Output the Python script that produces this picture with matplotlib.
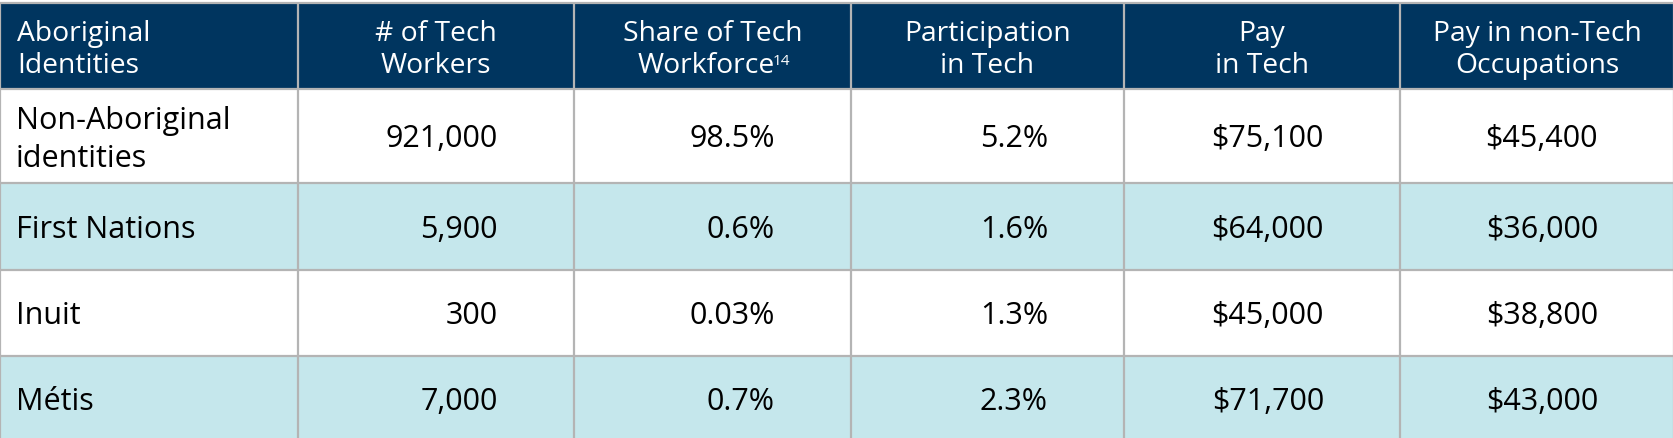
import matplotlib
matplotlib.use("Agg")
import matplotlib.pyplot as plt
from matplotlib.patches import Rectangle

plt.rcParams['font.family'] = ['Open Sans', 'DejaVu Sans']

# table data
headers = [["Aboriginal", "Identities"],
           ["# of Tech", "Workers"],
           ["Share of Tech", "Workforce"],
           ["Participation", "in Tech"],
           ["Pay", "in Tech"],
           ["Pay in non-Tech", "Occupations"]]
footnote = "14"
groups = [["Non-Aboriginal", "identities"], ["First Nations"], ["Inuit"], ["Métis"]]
tech_workers = [921000, 5900, 300, 7000]
share_of_workforce = [98.5, 0.6, 0.03, 0.7]
participation = [5.2, 1.6, 1.3, 2.3]
pay_tech = [75100, 64000, 45000, 71700]
pay_non_tech = [45400, 36000, 38800, 43000]

# layout in pixels
W, H = 1674, 438
col_w = [298, 276, 277, 273, 276, 274]
row_edges = [3, 89, 183, 270, 356, 443]
navy = '#00355f'
light = '#c5e7ec'
grid = '#b4b4b4'

col_edges = [0]
for w in col_w:
    col_edges.append(col_edges[-1] + w)

fig = plt.figure(figsize=(W / 100, H / 100), dpi=100)
ax = fig.add_axes([0, 0, 1, 1])
ax.set_xlim(0, W)
ax.set_ylim(H, 0)
ax.axis('off')

# backgrounds
ax.add_patch(Rectangle((0, row_edges[0]), W, row_edges[1] - row_edges[0], color=navy, lw=0))
for i in range(len(groups)):
    y0, y1 = row_edges[i + 1], row_edges[i + 2]
    c = light if i % 2 == 1 else 'white'
    ax.add_patch(Rectangle((0, y0), W, y1 - y0, color=c, lw=0))

# grid lines
ax.hlines(row_edges[:-1], 0, W, colors=grid, lw=1.6)
ax.vlines(col_edges, row_edges[0], H, colors=grid, lw=1.6)

hfs = 20.3
dfs = 22

# header text
hdr_base = [41, 73]
for j, lines in enumerate(headers):
    for k, t in enumerate(lines):
        if j == 0:
            ax.text(17, hdr_base[k], t, color='white', fontsize=hfs, ha='left', va='baseline')
        else:
            xc = (col_edges[j] + col_edges[j + 1]) / 2
            if j == 2 and k == 1:
                # footnote mark after "Workforce"
                txt = ax.text(xc - 6, hdr_base[k], t, color='white', fontsize=hfs,
                              ha='center', va='baseline')
                ax.annotate(footnote, xy=(1, 0.93), xycoords=txt, xytext=(-1.5, 0),
                            textcoords='offset points', color='white', fontsize=11,
                            ha='left', va='top')
            else:
                ax.text(xc, hdr_base[k], t, color='white', fontsize=hfs, ha='center', va='baseline')

# body
columns = [
    [f"{v:,}" for v in tech_workers],
    [f"{v:g}%" for v in share_of_workforce],
    [f"{v:.1f}%" for v in participation],
    [f"\\${v:,}" for v in pay_tech],
    [f"\\${v:,}" for v in pay_non_tech],
]
for i, lab in enumerate(groups):
    y0, y1 = row_edges[i + 1], row_edges[i + 2]
    yc = (y0 + y1) / 2
    if len(lab) == 2:
        ax.text(16, 129, lab[0], fontsize=dfs, ha='left', va='baseline', color='black')
        ax.text(16, 167, lab[1], fontsize=dfs, ha='left', va='baseline', color='black')
    else:
        ax.text(16, yc + 11, lab[0], fontsize=dfs, ha='left', va='baseline', color='black')
    for j, col in enumerate(columns):
        xr = col_edges[j + 2] - 76
        ax.text(xr, yc + 11, col[i], fontsize=dfs, ha='right', va='baseline', color='black')

fig.savefig('out.png', dpi=100)
